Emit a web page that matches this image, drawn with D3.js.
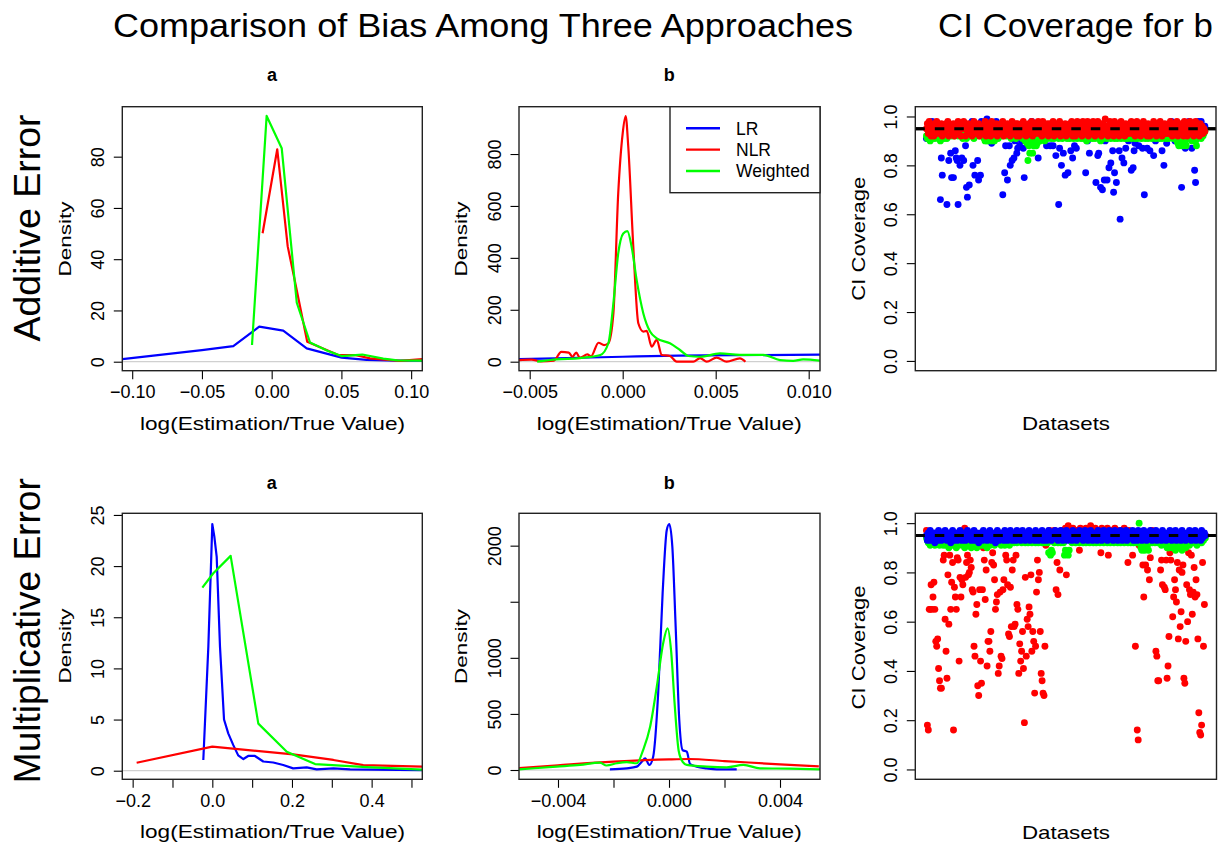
<!DOCTYPE html>
<html><head><meta charset="utf-8">
<script src="https://cdn.jsdelivr.net/npm/d3@7"></script>
<style>
body{margin:0;background:#fff}
svg{display:block;background:#fff}
</style>
</head><body>
<svg id="chart" width="1223" height="848"></svg>
<script>
// ===================== DATA =====================
const methods = ["LR", "NLR", "Weighted"];
const methodColors = ["#0000ff", "#ff0000", "#00ff00"];

// --- Additive error, panel a : [log(Estimation/True Value), Density]
const addA_LR  = [[-0.107,1.0],[-0.05,4.5],[-0.0275,6.1],[-0.0089,13.7],[0.0083,12.1],[0.0251,5.2],[0.0502,1.6],[0.068,0.7],[0.09,0.4],[0.108,0.4]];
const addA_NLR = [[-0.0065,50.1],[0.004,82.9],[0.0115,45],[0.0155,34.5],[0.0255,7.8],[0.0478,2.6],[0.0597,2.6],[0.0705,1.3],[0.092,0.3],[0.108,1.0]];
const addA_W   = [[-0.0141,6.5],[-0.0036,95.9],[0.0072,83.3],[0.018,23],[0.0275,7.5],[0.04,4.3],[0.05,2.2],[0.065,2.8],[0.08,1.2],[0.09,0.5],[0.108,0.4]];

// --- Additive error, panel b
const addB_LR  = [[-0.0056,10],[-0.003,14],[0,19],[0.003,23],[0.006,25],[0.0106,27]];
const addB_NLR = [[-0.0056,6],[-0.0049,8],[-0.0044,1],[-0.0037,4],[-0.0033,38],[-0.0029,35],[-0.0027,19],[-0.0025,35],[-0.0023,15],[-0.0019,28],[-0.0017,21],[-0.0013,73],[-0.001,64],[-0.00077,71],[-0.0005,186],[-0.00024,649],[0,880],[0.00016,946],[0.0003,828],[0.00057,443],[0.00084,148],[0.00111,116],[0.00129,119],[0.00156,58],[0.00183,84],[0.0021,26],[0.00254,22],[0.0029,0],[0.0038,0],[0.00416,14],[0.00452,0],[0.00505,16],[0.00559,0],[0.0063,13],[0.0066,0]];
const addB_W   = [[-0.0046,0],[-0.00355,9],[-0.0023,14],[-0.0012,26],[-0.00077,71],[-0.0005,225],[-0.00024,417],[0.00003,494],[0.00025,503],[0.00048,443],[0.00075,315],[0.00111,186],[0.00147,116],[0.00183,90],[0.00254,71],[0.00308,45],[0.00353,22],[0.00416,19],[0.00523,32],[0.0063,26],[0.00756,26],[0.00846,6],[0.00917,3],[0.0097,9],[0.0106,4]];

// --- Multiplicative error, panel a
const mulA_LR  = [[-0.0226,1.05],[-0.01,12.1],[0,24.1],[0.005,22.9],[0.011,20.9],[0.0193,12.1],[0.0294,5.0],[0.04,3.65],[0.0527,2.5],[0.065,1.5],[0.078,1.14],[0.09,1.44],[0.107,1.44],[0.128,0.9],[0.153,0.8],[0.178,0.56],[0.203,0.23],[0.237,0.33],[0.262,0.13],[0.304,0.23],[0.346,0.13],[0.527,0.05]];
const mulA_NLR = [[-0.19,0.78],[0.0,2.35],[0.103,1.96],[0.203,1.6],[0.304,1.05],[0.379,0.55],[0.527,0.39]];
const mulA_W   = [[-0.025,17.9],[0.0025,19.3],[0.046,21.0],[0.1155,4.6],[0.187,1.86],[0.258,0.65],[0.388,0.35],[0.527,0.1]];

// --- Multiplicative error, panel b
const mulB_LR  = [[-0.00213,6],[-0.00152,15],[-0.00116,30],[-0.00098,74],[-0.00086,104],[-0.00071,45],[-0.00057,119],[-0.00039,684],[-0.00023,1575],[-0.00008,2140],[0.00001,2193],[0.00012,1991],[0.00024,1278],[0.00037,446],[0.00049,178],[0.00064,163],[0.00076,53],[0.001,30],[0.00136,15],[0.00172,6],[0.00244,6]];
const mulB_NLR = [[-0.0054,18],[-0.004,42],[-0.002,74],[0,95],[0.0007,98],[0.002,80],[0.004,50],[0.0054,33]];
const mulB_W   = [[-0.0054,6],[-0.00405,30],[-0.0032,45],[-0.00249,65],[-0.00225,40],[-0.00188,60],[-0.00152,70],[-0.00116,60],[-0.00093,180],[-0.00068,386],[-0.00044,743],[-0.00021,1130],[-0.00005,1263],[0.00008,1050],[0.0002,600],[0.00035,170],[0.0005,70],[0.00064,45],[0.00136,30],[0.00208,24],[0.00268,45],[0.00328,15],[0.00436,12],[0.00544,6]];

// --- CI coverage for b (%), one value per dataset
const covAdd_LR = [
91,95,94,96,93,95,98,94,96,93,95,94,96,93,95,66,83,76,94,96,
93,95,64,94,82,96,85,75,93,75,95,86,83,82,64,94,80,96,83,93,
82,95,88,71,67,94,72,96,93,98,80,95,76,94,96,82,74,93,76,98,
95,94,96,93,95,99,94,96,93,95,89,94,96,93,95,98,94,96,93,95,
94,96,68,93,77,88,95,74,94,88,80,96,82,93,83,90,95,85,87,94,
88,96,90,93,87,75,95,94,96,91,93,95,94,98,96,93,90,95,94,96,
83,93,95,97,94,96,93,95,94,88,96,93,95,88,94,96,88,93,95,84,
94,96,64,87,93,80,95,85,94,76,96,93,77,95,94,86,96,83,93,88,
95,87,94,96,93,95,94,96,93,95,94,77,96,90,93,85,95,94,96,93,
95,94,73,96,84,85,93,71,95,70,94,74,90,96,74,93,79,95,81,94,
86,69,77,96,73,93,95,86,58,94,83,96,81,93,87,95,94,90,96,93,
78,95,79,86,89,94,96,93,88,95,94,96,87,93,68,95,94,87,96,93,
86,95,94,96,84,93,90,95,94,96,93,95,94,86,96,80,93,95,89,94,
96,93,95,98,94,96,93,90,95,94,96,93,95,94,71,96,93,95,87,94,
96,93,98,95,94,87,96,93,78,73,95,94,98,96,93,98,95,94,96,96];
const covAdd_W = [
92,91,93,92,90,94,91,93,92,91,94,92,93,91,92,90,91,93,92,91,
93,92,91,94,92,93,95,92,94,93,92,94,93,95,92,93,94,92,93,91,
92,94,93,91,92,93,95,92,94,93,92,91,93,92,94,93,95,92,93,94,
92,93,91,90,92,90,91,90,92,91,90,91,92,90,91,93,92,91,93,92,
94,93,92,94,93,95,92,93,94,92,93,91,92,94,93,92,91,93,92,94,
93,92,94,91,93,92,90,91,89,82,88,85,89,90,85,88,88,89,88,89,
91,92,90,91,93,92,91,90,92,93,91,92,94,93,91,92,93,91,92,94,
93,92,91,93,94,92,91,93,92,94,93,91,92,93,91,94,92,93,91,92,
94,93,91,92,93,94,91,92,93,91,94,92,90,93,92,91,94,93,91,92,
93,91,92,94,93,91,92,90,93,92,91,94,92,93,91,92,94,93,91,92,
93,94,91,92,93,91,92,94,93,91,92,93,94,91,92,93,91,94,92,93,
91,92,94,93,91,92,93,91,94,92,93,91,92,94,93,91,92,93,91,94,
92,93,91,92,94,93,91,92,93,94,91,92,93,91,92,94,93,91,92,93,
91,92,93,94,92,91,93,92,91,90,89,88,90,89,88,89,88,90,89,88,
91,92,93,91,92,90,92,93,91,90,88,91,93,92,94,91,93,92,93,94];
const covAdd_NLR = [
95,97,93,98,95,92,96,94,92,97,93,98,95,96,93,94,97,92,96,95,
93,97,95,98,92,95,96,93,94,97,92,96,95,93,98,94,96,92,95,97,
98,95,92,96,94,97,93,96,95,92,97,98,94,93,96,95,97,92,96,94,
93,96,95,98,92,96,94,93,97,92,98,95,96,93,94,97,92,96,95,93,
97,94,98,92,96,95,93,97,94,96,92,95,98,96,93,95,97,92,97,94,
92,96,95,93,98,94,96,92,95,93,97,94,95,98,92,96,95,93,97,94,
98,93,95,96,92,98,95,93,96,94,97,92,95,97,93,95,98,92,96,94,
93,97,95,98,92,94,96,93,95,97,92,96,94,93,97,95,98,92,94,96,
92,95,98,96,93,95,97,92,98,94,93,96,95,98,92,96,94,93,97,98,
95,92,96,94,98,93,95,97,92,95,97,93,99,94,96,92,95,98,93,96,
94,92,98,96,93,95,97,92,94,98,93,96,95,92,97,94,96,93,95,97,
98,93,95,96,92,94,98,93,96,95,92,97,94,98,93,95,96,92,97,94,
92,96,95,93,98,94,97,92,95,96,93,98,94,92,96,95,97,93,94,96,
93,95,98,96,92,94,97,93,95,98,92,96,94,93,97,95,92,98,94,96,
92,95,96,98,93,94,97,92,95,98,93,96,94,92,97,95,96,93,95,94];

const covMul_NLR = [
97,18,16,65,65,75,65,70,76,65,52,50,53,41,36,33,33,92,85,87,
61,48,37,79,59,87,65,76,84,16,74,70,65,86,85,44,78,70,77,75,
91,98,78,84,87,79,80,85,82,73,72,50,46,63,67,34,30,73,44,35,
73,90,85,69,81,42,52,52,48,56,84,88,83,77,65,68,71,39,42,72,
46,45,73,77,92,87,85,75,55,54,74,58,81,85,58,59,87,67,65,39,
51,44,48,56,41,19,78,46,61,58,66,63,79,48,56,52,31,50,72,85,
77,80,56,39,36,31,30,50,91,95,96,94,97,95,93,96,94,97,95,73,
84,71,96,81,95,97,94,96,93,98,79,95,99,96,94,97,95,98,96,94,
95,97,93,96,89,98,95,94,97,96,95,98,94,96,97,95,99,94,96,97,
95,98,96,94,97,95,96,88,98,95,97,94,96,95,98,87,96,94,97,95,
96,94,98,95,97,96,93,95,97,94,96,95,98,94,96,95,84,97,96,94,
95,87,96,94,50,95,16,12,91,96,94,95,83,70,96,83,95,81,94,77,
86,95,97,94,96,95,48,46,36,36,95,81,85,75,96,74,73,85,37,42,
54,88,85,95,62,70,77,73,68,84,53,81,58,64,80,83,37,35,52,75,
60,88,73,71,87,63,72,82,70,77,71,53,23,15,14,18,84,50,67,95];
const covMul_W = [
94,93,92,95,91,93,94,92,93,91,94,92,93,95,91,92,94,93,91,92,
93,91,94,92,90,93,91,92,94,91,93,92,90,94,92,91,93,92,94,91,
92,90,93,91,94,92,91,93,90,92,94,91,93,92,90,94,91,92,93,91,
94,92,91,93,92,90,94,93,91,92,93,94,92,91,93,95,92,94,93,92,
91,93,92,94,91,93,95,92,93,91,94,92,93,95,92,94,93,92,94,93,
95,93,92,94,93,95,92,94,93,92,95,93,94,92,93,95,94,92,93,94,
92,94,93,95,92,93,94,92,93,94,92,88,88,87,89,88,93,92,94,93,
95,92,94,93,92,94,93,92,87,89,88,88,87,89,93,94,92,95,93,94,
92,93,95,94,92,93,94,95,92,93,94,92,95,93,94,92,93,95,94,92,
93,94,92,95,93,94,92,93,95,94,92,93,94,95,92,93,94,92,95,93,
94,92,93,95,94,92,93,94,92,95,93,94,92,93,95,94,92,93,94,92,
93,95,92,94,93,92,94,93,100,92,90,89,91,90,89,92,90,91,89,92,
93,94,92,93,95,92,94,93,92,94,93,92,91,93,94,92,93,91,90,90,
90,92,91,93,90,92,91,89,92,90,91,93,90,92,89,91,93,92,90,91,
92,93,91,94,92,93,95,92,94,93,91,92,94,93,95,92,94,93,95,94];
const covMul_LR = [
95,93,96,94,97,93,95,96,94,92,96,95,93,97,94,95,93,96,94,95,
97,94,93,95,96,94,92,95,97,93,94,96,95,93,96,94,97,95,93,94,
96,95,93,94,97,95,94,96,93,95,94,97,93,95,96,94,92,95,96,94,
93,97,95,94,96,93,95,94,97,96,93,95,94,96,92,95,97,94,93,96,
95,94,96,93,97,95,94,93,96,95,97,94,93,95,96,94,93,97,95,94,
96,93,95,97,94,96,93,95,94,96,97,93,95,94,96,95,93,97,94,95,
93,96,94,95,97,93,95,96,94,93,95,97,94,96,93,95,94,96,97,95,
94,93,96,95,97,94,93,96,95,94,97,93,95,96,94,95,93,97,94,96,
95,93,96,94,97,95,94,96,93,95,97,94,96,93,95,94,97,96,93,95,
94,96,95,93,97,94,95,96,93,94,97,95,96,94,93,95,97,94,96,95,
93,95,97,94,96,93,95,94,97,96,93,95,94,96,97,93,95,94,96,95,
94,97,93,95,96,94,93,97,95,94,96,93,95,97,94,96,93,95,94,96,
97,94,93,95,96,94,97,93,95,94,96,95,93,97,94,96,95,93,94,96,
95,97,94,93,96,95,94,97,93,95,96,94,95,93,97,94,96,95,93,94,
96,95,97,94,93,95,96,94,97,93,95,94,96,95,93,97,94,95,96,95];

const nominalCoverage = 0.95;

// --- tick values and labels
const addA_xTicks = [-0.10,-0.05,0,0.05,0.10];       const addA_xLabels = ["\u22120.10","\u22120.05","0.00","0.05","0.10"];
const addA_yTicks = [0,20,40,60,80];                  const addA_yLabels = ["0","20","40","60","80"];
const addB_xTicks = [-0.005,0,0.005,0.010];           const addB_xLabels = ["\u22120.005","0.000","0.005","0.010"];
const addB_yTicks = [0,200,400,600,800];              const addB_yLabels = ["0","200","400","600","800"];
const mulA_xTicks = [-0.2,-0.1,0,0.1,0.2,0.3,0.4,0.5]; const mulA_xLabels = ["\u22120.2","","0.0","","0.2","","0.4",""];
const mulA_yTicks = [0,5,10,15,20,25];                const mulA_yLabels = ["0","5","10","15","20","25"];
const mulB_xTicks = [-0.004,-0.002,0,0.002,0.004];    const mulB_xLabels = ["\u22120.004","","0.000","","0.004"];
const mulB_yTicks = [0,500,1000,1500,2000];           const mulB_yLabels = ["0","500","1000","","2000"];
const cov_yTicks  = [0,0.2,0.4,0.6,0.8,1.0];          const cov_yLabels  = ["0.0","0.2","0.4","0.6","0.8","1.0"];

// ===================== DRAWING =====================
const FONT = '"Liberation Sans", Arial, Helvetica, sans-serif';
const svg = d3.select("#chart");
const defs = svg.append("defs");
let clipN = 0;

function styleAxis(ga) {
  ga.select(".domain").remove();
  ga.attr("font-family", null).attr("font-size", null);
  ga.selectAll(".tick line").attr("stroke", "#000").attr("stroke-width", 1.1);
  ga.selectAll(".tick text").attr("fill", "#000")
    .style("font-size", "18px").style("font-family", FONT);
}

function makePanel(p) {
  const x = d3.scaleLinear().domain(p.xd).range([p.x0, p.x1]);
  const y = d3.scaleLinear().domain(p.yd).range([p.y1, p.y0]);
  const cid = "clip" + (clipN++);
  defs.append("clipPath").attr("id", cid).append("rect")
    .attr("x", p.x0).attr("y", p.y0).attr("width", p.x1 - p.x0).attr("height", p.y1 - p.y0);
  const g = svg.append("g");
  const plot = g.append("g").attr("clip-path", `url(#${cid})`);
  if (p.xt) {
    const ax = d3.axisBottom(x).tickValues(p.xt).tickFormat((d, i) => p.xl[i])
      .tickSize(8.5).tickPadding(6.5);
    const ga = g.append("g").attr("transform", `translate(0,${p.y1})`).call(ax);
    styleAxis(ga);
  }
  const ay = d3.axisLeft(y).tickValues(p.yt).tickFormat((d, i) => p.yl[i]).tickSize(8.5);
  const gy = g.append("g").attr("transform", `translate(${p.x0},0)`).call(ay);
  styleAxis(gy);
  gy.selectAll(".tick text").attr("transform", "rotate(-90)")
    .attr("x", 0).attr("y", -18.5).attr("dy", 0).attr("text-anchor", "middle");
  return { g, plot, x, y, p };
}

function drawBox(P) {
  const p = P.p;
  P.g.append("rect").attr("x", p.x0).attr("y", p.y0)
    .attr("width", p.x1 - p.x0).attr("height", p.y1 - p.y0)
    .attr("fill", "none").attr("stroke", "#222").attr("stroke-width", 1.4);
}

function densityPanel(p, series, smooth) {
  const P = makePanel(p);
  P.plot.append("line").attr("x1", p.x0).attr("x2", p.x1)
    .attr("y1", P.y(0)).attr("y2", P.y(0))
    .attr("stroke", "#c4c4c4").attr("stroke-width", 1);
  const line = d3.line().x(d => P.x(d[0])).y(d => P.y(d[1]))
    .curve(smooth ? d3.curveMonotoneX : d3.curveLinear);
  series.forEach(s => {
    P.plot.append("path").datum(s.data).attr("d", line)
      .attr("fill", "none").attr("stroke", s.color).attr("stroke-width", 2.2)
      .attr("stroke-linejoin", "round");
  });
  drawBox(P);
  return P;
}

function coveragePanel(p, series) {
  const n = d3.max(series, s => s.data.length);
  p.xd = [1 - 0.04 * (n - 1), n + 0.04 * (n - 1)];
  const P = makePanel(p);
  const yN = P.y(nominalCoverage);
  P.plot.append("line").attr("x1", p.x0).attr("x2", p.x1).attr("y1", yN).attr("y2", yN)
    .attr("stroke", "#000").attr("stroke-width", 3);
  series.forEach(s => {
    P.plot.append("g").selectAll("circle").data(s.data).join("circle")
      .attr("cx", (d, i) => P.x(i + 1)).attr("cy", d => P.y(d / 100))
      .attr("r", 3.45).attr("fill", s.color);
  });
  P.plot.append("line").attr("x1", p.x0).attr("x2", p.x1).attr("y1", yN).attr("y2", yN)
    .attr("stroke", "#000").attr("stroke-width", 3).attr("stroke-dasharray", "9.5,10");
  drawBox(P);
  return P;
}

const C = {}; methods.forEach((m, i) => C[m] = methodColors[i]);

// Row 1
densityPanel({x0:122.3, x1:422.3, y0:106.7, y1:370.7, xd:[-0.1071,0.1080], yd:[-3.51,99.5],
  xt:addA_xTicks, xl:addA_xLabels, yt:addA_yTicks, yl:addA_yLabels},
  [{data:addA_LR,color:C.LR},{data:addA_NLR,color:C.NLR},{data:addA_W,color:C.Weighted}], false);

densityPanel({x0:519, x1:820, y0:106.7, y1:370.7, xd:[-0.005575,0.010608], yd:[-34.7,982.3],
  xt:addB_xTicks, xl:addB_xLabels, yt:addB_yTicks, yl:addB_yLabels},
  [{data:addB_LR,color:C.LR},{data:addB_NLR,color:C.NLR},{data:addB_W,color:C.Weighted}], true);

coveragePanel({x0:915.3, x1:1216, y0:106.7, y1:370.7, yd:[-0.04,1.04],
  yt:cov_yTicks, yl:cov_yLabels},
  [{data:covAdd_LR,color:C.LR},{data:covAdd_W,color:C.Weighted},{data:covAdd_NLR,color:C.NLR}]);

// Row 2
densityPanel({x0:122.3, x1:422.3, y0:513.3, y1:779.3, xd:[-0.226,0.5272], yd:[-0.84,25.16],
  xt:mulA_xTicks, xl:mulA_xLabels, yt:mulA_yTicks, yl:mulA_yLabels},
  [{data:mulA_LR,color:C.LR},{data:mulA_NLR,color:C.NLR},{data:mulA_W,color:C.Weighted}], false);

densityPanel({x0:519, x1:820, y0:513.3, y1:779.3, xd:[-0.005405,0.005441], yd:[-82.9,2288.5],
  xt:mulB_xTicks, xl:mulB_xLabels, yt:mulB_yTicks, yl:mulB_yLabels},
  [{data:mulB_LR,color:C.LR},{data:mulB_NLR,color:C.NLR},{data:mulB_W,color:C.Weighted}], true);

coveragePanel({x0:915.3, x1:1216.5, y0:513.3, y1:779.3, yd:[-0.04,1.04],
  yt:cov_yTicks, yl:cov_yLabels},
  [{data:covMul_NLR,color:C.NLR},{data:covMul_W,color:C.Weighted},{data:covMul_LR,color:C.LR}]);

// Legend (top-middle panel)
const lg = svg.append("g");
lg.append("rect").attr("x", 670).attr("y", 106.7).attr("width", 150).attr("height", 86)
  .attr("fill", "#fff").attr("stroke", "#222").attr("stroke-width", 1.4);
const legY = [128.3, 149.6, 171];
methods.forEach((m, i) => {
  lg.append("line").attr("x1", 686).attr("x2", 720).attr("y1", legY[i]).attr("y2", legY[i])
    .attr("stroke", methodColors[i]).attr("stroke-width", 2.4);
  lg.append("text").attr("x", 736).attr("y", legY[i] + 6.2).text(m)
    .style("font-family", FONT).style("font-size", "17.5px").attr("fill", "#000");
});

// Texts
function label(x, y, s, o) {
  const t = svg.append("text").attr("x", 0).attr("y", 0)
    .attr("transform", `translate(${x},${y})` + (o.rot ? " rotate(-90)" : ""))
    .attr("text-anchor", o.anchor || "middle").attr("fill", "#000")
    .style("font-size", o.size + "px").style("font-family", FONT)
    .style("font-weight", o.bold ? "bold" : "normal")
    .text(s);
  if (o.len) t.attr("textLength", o.len).attr("lengthAdjust", "spacingAndGlyphs");
  return t;
}
label(113, 37.3, "Comparison of Bias Among Three Approaches", {size:34, anchor:"start", len:740});
label(938, 37.3, "CI Coverage for b", {size:34, anchor:"start", len:275});

label(272, 81, "a", {size:18, bold:true});
label(669.3, 81, "b", {size:18, bold:true});
label(271.7, 489, "a", {size:18, bold:true});
label(669.3, 489, "b", {size:18, bold:true});

label(40, 228, "Additive Error", {size:36, rot:true, len:227});
label(40, 630.7, "Multiplicative Error", {size:36, rot:true, len:305});

[[70.5,239],[467,239],[70.5,646],[467,646.5]].forEach(([x, y]) =>
  label(x, y, "Density", {size:17, rot:true, len:75}));
[[864.5,238.7],[864.5,647.5]].forEach(([x, y]) =>
  label(x, y, "CI Coverage", {size:18, rot:true, len:124}));

[[272.5,429.5],[669.2,429.5],[272.5,838],[669.2,838]].forEach(([x, y]) =>
  label(x, y, "log(Estimation/True Value)", {size:19, len:265}));
[[1066,430],[1066,838.5]].forEach(([x, y]) =>
  label(x, y, "Datasets", {size:19, len:88}));
</script>
</body></html>
